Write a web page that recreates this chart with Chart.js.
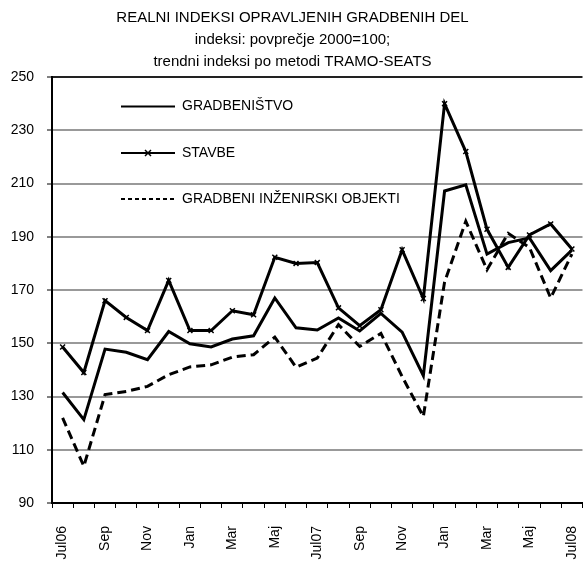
<!DOCTYPE html>
<html>
<head>
<meta charset="utf-8">
<script src="https://cdn.jsdelivr.net/npm/chart.js@4.4.1/dist/chart.umd.min.js"></script>
<style>
    html, body { margin: 0; padding: 0; background: #fff; overflow: hidden; }
    #wrap { width: 585px; height: 565px; overflow: hidden; }
</style>
</head>
<body>
<div id="wrap"><canvas id="chart" width="588" height="565"></canvas></div>
<script>
// --------------------- Data -------------------
const months = ['Jul06', 'Avg', 'Sep', 'Okt', 'Nov', 'Dec', 'Jan', 'Feb', 'Mar', 'Apr', 'Maj', 'Jun',
    'Jul07', 'Avg', 'Sep', 'Okt', 'Nov', 'Dec', 'Jan', 'Feb', 'Mar', 'Apr', 'Maj', 'Jun', 'Jul08'];

const gradbenistvo = [131.5, 121.3, 147.8, 146.6, 143.8, 154.4, 149.8, 148.6, 151.6, 152.8, 167.0, 155.8,
    155.0, 159.5, 154.6, 161.2, 154.2, 137.8, 207.2, 209.5, 183.5, 187.8, 189.6, 177.3, 185.0];

const stavbe = [148.6, 139.0, 166.0, 159.7, 154.8, 173.6, 154.8, 154.8, 162.2, 160.7, 182.3, 180.0,
    180.3, 163.3, 156.6, 162.6, 185.1, 166.8, 240.0, 222.0, 192.8, 178.5, 190.7, 194.8, 185.4];

const inzenirski = [122.0, 103.8, 130.7, 131.9, 133.8, 138.2, 141.1, 141.9, 144.8, 145.7, 152.3, 141.0,
    144.4, 157.0, 148.8, 153.7, 137.5, 122.5, 173.0, 195.8, 177.6, 191.3, 186.0, 167.0, 183.5];

const titleLines = [
    'REALNI INDEKSI OPRAVLJENIH GRADBENIH DEL',
    'indeksi: povprečje 2000=100;',
    'trendni indeksi po metodi TRAMO-SEATS'
];

const FONT = "'Liberation Sans', Arial, sans-serif";

// --------------------- Legend drawn inside the plot -------------------
const insideLegend = {
    id: 'insideLegend',
    afterDatasetsDraw(chart) {
        const ctx = chart.ctx;
        const x0 = 121, x1 = 175, tx = 182;
        const rows = [106.5, 153, 199];
        ctx.save();
        ctx.strokeStyle = '#000';
        ctx.fillStyle = '#000';
        ctx.font = '14px ' + FONT;
        ctx.textBaseline = 'middle';
        chart.data.datasets.forEach((ds, i) => {
            const y = rows[i];
            ctx.lineWidth = 2;
            ctx.setLineDash(ds.borderDash ? [4, 3] : []);
            ctx.beginPath();
            ctx.moveTo(x0, y);
            ctx.lineTo(x1, y);
            ctx.stroke();
            ctx.setLineDash([]);
            if (ds.pointStyle === 'crossRot') {
                const cx = (x0 + x1) / 2, r = 3;
                ctx.lineWidth = 1.5;
                ctx.beginPath();
                ctx.moveTo(cx - r, y - r); ctx.lineTo(cx + r, y + r);
                ctx.moveTo(cx + r, y - r); ctx.lineTo(cx - r, y + r);
                ctx.stroke();
            }
            ctx.fillText(ds.label, tx, y);
        });
        ctx.restore();
    }
};

// --------------------- Chart -------------------
const ctx = document.getElementById('chart').getContext('2d');
const chart = new Chart(ctx, {
    type: 'line',
    data: {
        labels: months,
        datasets: [{
            label: 'GRADBENIŠTVO',
            data: gradbenistvo,
            borderColor: '#000',
            borderWidth: 3,
            pointRadius: 0,
            tension: 0
        }, {
            label: 'STAVBE',
            data: stavbe,
            borderColor: '#000',
            borderWidth: 3,
            pointStyle: 'crossRot',
            pointRadius: 3.5,
            pointBorderWidth: 1.5,
            pointBorderColor: '#000',
            pointBackgroundColor: '#000',
            tension: 0
        }, {
            label: 'GRADBENI INŽENIRSKI OBJEKTI',
            data: inzenirski,
            borderColor: '#000',
            borderWidth: 3,
            borderDash: [9, 5],
            pointRadius: 0,
            tension: 0
        }]
    },
    options: {
        responsive: false,
        animation: false,
        devicePixelRatio: 1,
        // negative left padding keeps the title centred on the visible 585px
        layout: { padding: { left: -3, right: 0, top: 0, bottom: 0 } },
        plugins: {
            legend: { display: false },
            tooltip: { enabled: false },
            title: {
                display: true,
                text: titleLines,
                color: '#000',
                font: { family: FONT, size: 15, weight: 'normal', lineHeight: 1.467 },
                padding: { top: 7, bottom: 4 }
            }
        },
        scales: {
            x: {
                offset: true,
                grid: {
                    offset: true,
                    drawOnChartArea: false,
                    drawTicks: true,
                    tickLength: 5,
                    tickColor: '#000',
                    tickWidth: 1
                },
                border: { display: true, color: '#000', width: 2 },
                ticks: {
                    autoSkip: false,
                    minRotation: 90,
                    maxRotation: 90,
                    padding: 18,
                    color: '#000',
                    font: { family: FONT, size: 14 },
                    callback: (v, i) => (i % 2 === 0 ? months[i] : '')
                },
                afterFit: scale => {
                    scale.height = 62;
                    // let the plot run to the right edge, last label gets cut like the original
                    scale.paddingLeft = 0;
                    scale.paddingRight = 0;
                }
            },
            y: {
                min: 90,
                max: 250,
                grid: {
                    color: c => (c.tick && c.tick.value === 250 ? '#222' : '#999'),
                    lineWidth: 2,
                    drawTicks: true,
                    tickLength: 5,
                    tickColor: '#000',
                    tickWidth: 1
                },
                border: { display: true, color: '#000', width: 2 },
                ticks: {
                    stepSize: 20,
                    padding: 13,
                    color: '#000',
                    font: { family: FONT, size: 14 }
                },
                afterFit: scale => { scale.width = 55; }
            }
        }
    },
    plugins: [insideLegend]
});
</script>
</body>
</html>
